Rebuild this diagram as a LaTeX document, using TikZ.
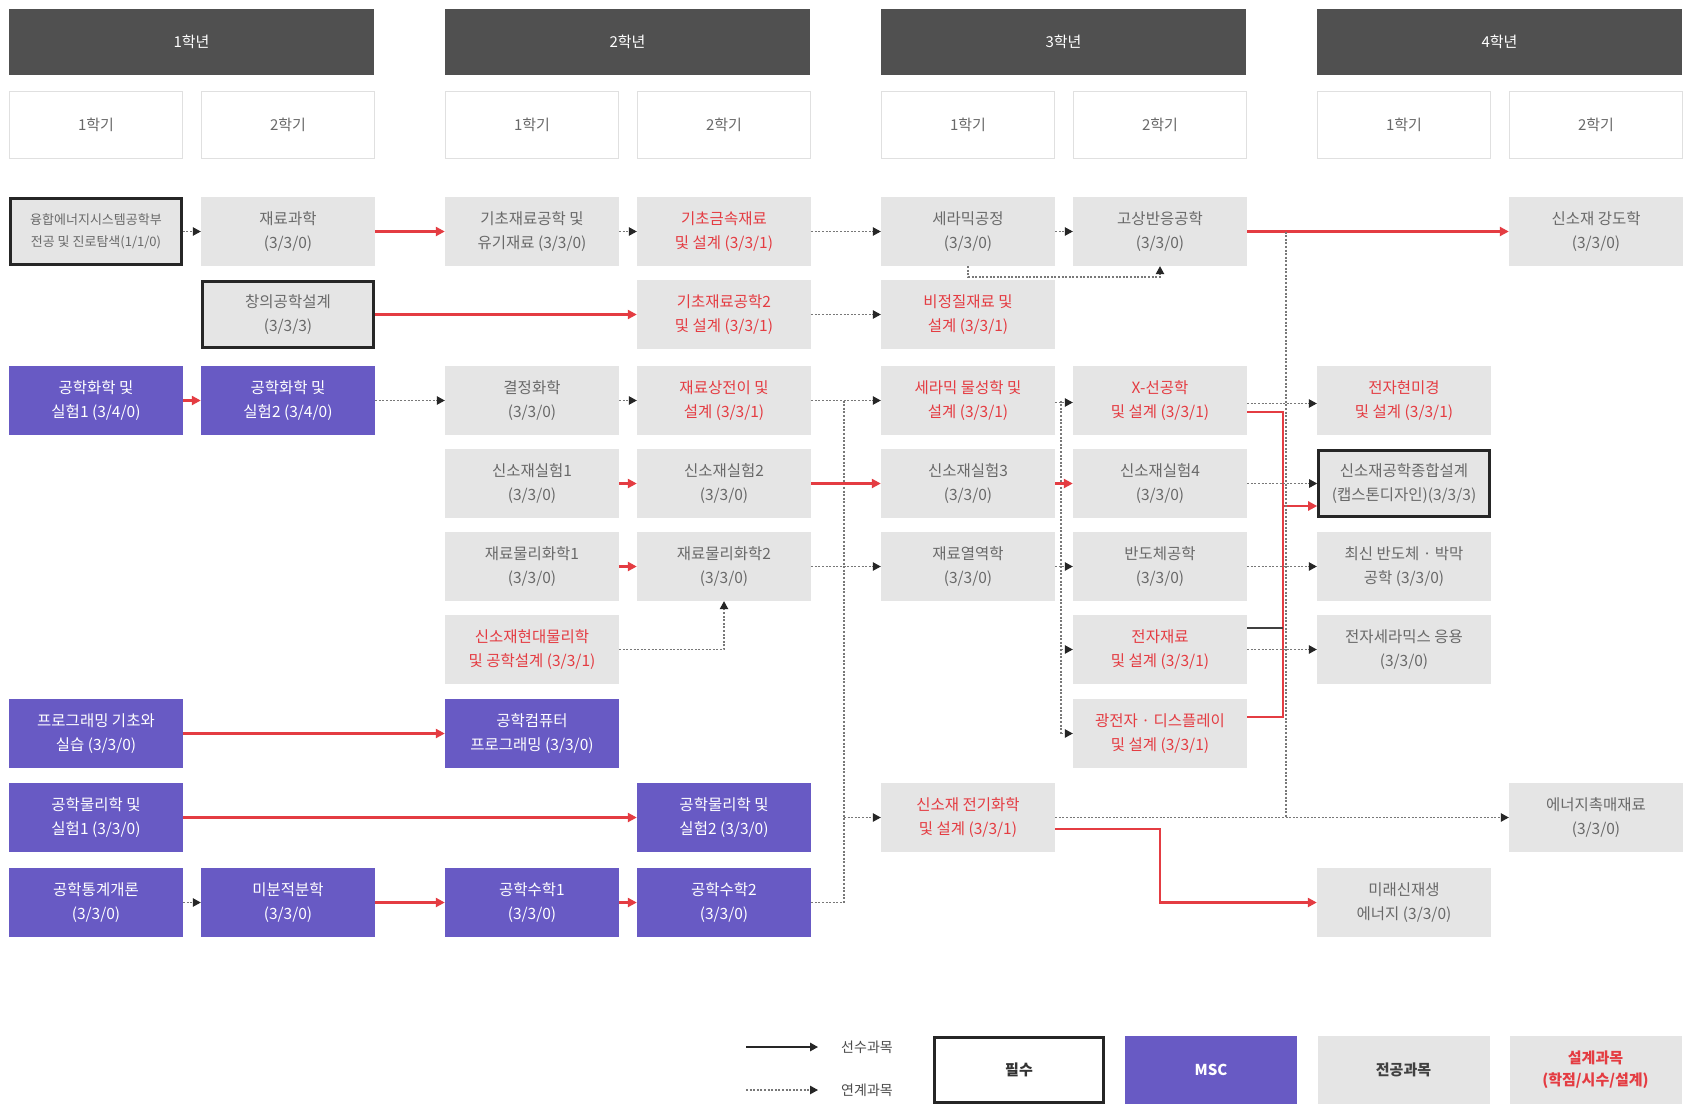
\documentclass[tikz,border=0pt]{standalone}
\usepackage{fontspec}
\setmainfont{Noto Sans CJK KR}
\usetikzlibrary{arrows.meta,calc}
\definecolor{hdrgray}{RGB}{80,80,80}
\definecolor{boxgray}{RGB}{229,229,229}
\definecolor{txtgray}{RGB}{105,105,105}
\definecolor{semline}{RGB}{224,224,224}
\definecolor{mscpurple}{RGB}{104,90,196}
\definecolor{dred}{RGB}{228,60,66}
\definecolor{dotgray}{RGB}{120,120,120}
\begin{document}
\begin{tikzpicture}[x=1pt,y=-1pt,
  hdr/.style={rectangle,fill=hdrgray,minimum width=365pt,minimum height=66pt,inner sep=0pt,text=white,font=\fontsize{15}{18}\selectfont},
  sem/.style={rectangle,fill=white,draw=semline,line width=1pt,minimum width=173pt,minimum height=67pt,inner sep=0pt,text=txtgray,font=\fontsize{15}{18}\selectfont},
  course/.style={rectangle,fill=boxgray,minimum width=174pt,minimum height=69pt,inner sep=0pt,align=center,text=txtgray,font=\fontsize{15.5}{24}\selectfont},
  design/.style={course,text=dred},
  msc/.style={course,fill=mscpurple,text=white},
  req/.style={draw=black!85,line width=2.6pt,minimum width=171pt,minimum height=66pt},
  redln/.style={draw=dred,line width=2.5pt},
  redarr/.style={redln,-{Triangle[length=9pt,width=9pt]}},
  dotln/.style={draw=dotgray,line width=1.1pt,dash pattern=on 2pt off 1.6pt},
  dotarr/.style={dotln,-{Triangle[length=8pt,width=8.5pt,color=black!85]}},
  darkln/.style={draw=black!75,line width=2pt},
  solidarr/.style={draw=black!85,line width=1.5pt,-{Triangle[length=8pt,width=8.5pt]}},
  legtxt/.style={text=black!70,font=\fontsize{14}{17}\selectfont},
  legbox/.style={rectangle,minimum width=172pt,minimum height=68pt,inner sep=0pt,align=center,font=\bfseries\fontsize{15}{22}\selectfont}
]
\useasboundingbox (0,0) rectangle (1687,1106);
\fill[white] (0,0) rectangle (1687,1106);

% headers
\node[hdr] (y1) at (191.5,42) {1학년};
\node[hdr] (y2) at (627.5,42) {2학년};
\node[hdr] (y3) at (1063.5,42) {3학년};
\node[hdr] (y4) at (1499.5,42) {4학년};
% semesters
\node[sem] (s1) at (96,125) {1학기};
\node[sem] (s2) at (288,125) {2학기};
\node[sem] (s3) at (532,125) {1학기};
\node[sem] (s4) at (724,125) {2학기};
\node[sem] (s5) at (968,125) {1학기};
\node[sem] (s6) at (1160,125) {2학기};
\node[sem] (s7) at (1404,125) {1학기};
\node[sem] (s8) at (1596,125) {2학기};

% row 1
\node[course,req,font=\fontsize{13}{22}\selectfont] (n11) at (96,231.5) {융합에너지시스템공학부\\전공 및 진로탐색(1/1/0)};
\node[course] (n21) at (288,231.5) {재료과학\\(3/3/0)};
\node[course] (n31) at (532,231.5) {기초재료공학 및\\유기재료 (3/3/0)};
\node[design] (n41) at (724,231.5) {기초금속재료\\및 설계 (3/3/1)};
\node[course] (n51) at (968,231.5) {세라믹공정\\(3/3/0)};
\node[course] (n61) at (1160,231.5) {고상반응공학\\(3/3/0)};
\node[course] (n81) at (1596,231.5) {신소재 강도학\\(3/3/0)};
% row 2
\node[course,req] (n22) at (288,314.5) {창의공학설계\\(3/3/3)};
\node[design] (n42) at (724,314.5) {기초재료공학2\\및 설계 (3/3/1)};
\node[design] (n52) at (968,314.5) {비정질재료 및\\설계 (3/3/1)};
% row 3
\node[msc] (n13) at (96,400.5) {공학화학 및\\실험1 (3/4/0)};
\node[msc] (n23) at (288,400.5) {공학화학 및\\실험2 (3/4/0)};
\node[course] (n33) at (532,400.5) {결정화학\\(3/3/0)};
\node[design] (n43) at (724,400.5) {재료상전이 및\\설계 (3/3/1)};
\node[design] (n53) at (968,400.5) {세라믹 물성학 및\\설계 (3/3/1)};
\node[design] (n63) at (1160,400.5) {X-선공학\\및 설계 (3/3/1)};
\node[design] (n73) at (1404,400.5) {전자현미경\\및 설계 (3/3/1)};
% row 4
\node[course] (n34) at (532,483.5) {신소재실험1\\(3/3/0)};
\node[course] (n44) at (724,483.5) {신소재실험2\\(3/3/0)};
\node[course] (n54) at (968,483.5) {신소재실험3\\(3/3/0)};
\node[course] (n64) at (1160,483.5) {신소재실험4\\(3/3/0)};
\node[course,req] (n74) at (1404,483.5) {신소재공학종합설계\\(캡스톤디자인)(3/3/3)};
% row 5
\node[course] (n35) at (532,566.5) {재료물리화학1\\(3/3/0)};
\node[course] (n45) at (724,566.5) {재료물리화학2\\(3/3/0)};
\node[course] (n55) at (968,566.5) {재료열역학\\(3/3/0)};
\node[course] (n65) at (1160,566.5) {반도체공학\\(3/3/0)};
\node[course] (n75) at (1404,566.5) {최신 반도체 · 박막\\공학 (3/3/0)};
% row 6
\node[design] (n36) at (532,649.5) {신소재현대물리학\\및 공학설계 (3/3/1)};
\node[design] (n66) at (1160,649.5) {전자재료\\및 설계 (3/3/1)};
\node[course] (n76) at (1404,649.5) {전자세라믹스 응용\\(3/3/0)};
% row 7
\node[msc] (n17) at (96,733.5) {프로그래밍 기초와\\실습 (3/3/0)};
\node[msc] (n37) at (532,733.5) {공학컴퓨터\\프로그래밍 (3/3/0)};
\node[design] (n67) at (1160,733.5) {광전자 · 디스플레이\\및 설계 (3/3/1)};
% row 8
\node[msc] (n18) at (96,817.5) {공학물리학 및\\실험1 (3/3/0)};
\node[msc] (n48) at (724,817.5) {공학물리학 및\\실험2 (3/3/0)};
\node[design] (n58) at (968,817.5) {신소재 전기화학\\및 설계 (3/3/1)};
\node[course] (n88) at (1596,817.5) {에너지촉매재료\\(3/3/0)};
% row 9
\node[msc] (n19) at (96,902.5) {공학통계개론\\(3/3/0)};
\node[msc] (n29) at (288,902.5) {미분적분학\\(3/3/0)};
\node[msc] (n39) at (532,902.5) {공학수학1\\(3/3/0)};
\node[msc] (n49) at (724,902.5) {공학수학2\\(3/3/0)};
\node[course] (n79) at (1404,902.5) {미래신재생\\에너지 (3/3/0)};

% bus coordinates
\coordinate (b1t) at (844,400.5);
\coordinate (b1m) at (844,817.5);
\coordinate (b1b) at (844,902.5);
\coordinate (b2t) at (1061,400.5);
\coordinate (b2m) at (1061,649.5);
\coordinate (b2b) at (1061,733.5);
\coordinate (rbt) at (1283,412);
\coordinate (rbm) at (1283,506);
\coordinate (rbk) at (1283,628);
\coordinate (rbb) at (1283,717);
\coordinate (dvt) at (1286,231.5);
\coordinate (dvb) at (1286,817.5);
\coordinate (rk) at (1160,829);
\coordinate (nb) at (968,277);

% connectors
\draw[dotarr] (n11.east) -- (n21.west);
\draw[redarr] (n21.east) -- (n31.west);
\draw[dotarr] (n31.east) -- (n41.west);
\draw[dotarr] (n41.east) -- (n51.west);
\draw[dotarr] (n51.east) -- (n61.west);
\draw[dotarr] (n51.south) -- (nb) -| (n61.south);
\draw[redarr] (n61.east) -- (n81.west);
\draw[redarr] (n22.east) -- (n42.west);
\draw[dotarr] (n42.east) -- (n52.west);
\draw[redarr] (n13.east) -- (n23.west);
\draw[dotarr] (n23.east) -- (n33.west);
\draw[dotarr] (n33.east) -- (n43.west);
\draw[dotarr] (n43.east) -- (n53.west);
\draw[dotln] (b1t) -- (b1b);
\draw[dotln] (n49.east) -- (b1b);
\draw[dotarr] (b1m) -- (n58.west);
\draw[redarr] (n34.east) -- (n44.west);
\draw[redarr] (n44.east) -- (n54.west);
\draw[redarr] (n35.east) -- (n45.west);
\draw[dotarr] (n45.east) -- (n55.west);
\draw[dotarr] (n36.east) -| (n45.south);
\draw[redarr] (n17.east) -- (n37.west);
\draw[redarr] (n18.east) -- (n48.west);
\draw[dotarr] (n19.east) -- (n29.west);
\draw[redarr] (n29.east) -- (n39.west);
\draw[redarr] (n39.east) -- (n49.west);

\draw[dotarr] ([yshift=-2pt]n53.east) -- ([yshift=-2pt]n63.west);
\draw[dotln] (b2t) -- (b2b);
\draw[redarr] (n54.east) -- (n64.west);
\draw[dotarr] (n55.east) -- (n65.west);
\draw[dotarr] (b2m) -- (n66.west);
\draw[dotarr] (b2b) -- (n67.west);

\draw[redln] (rbt -| n63.east) -- (rbt) -- (rbb) -- (rbb -| n67.east);
\draw[redarr] (rbm) -- (rbm -| n74.west);
\draw[darkln] (rbk -| n66.east) -- (rbk);
\draw[dotarr] ([yshift=-3pt]n63.east) -- ([yshift=-3pt]n73.west);
\draw[dotarr] (n64.east) -- (n74.west);
\draw[dotarr] (n65.east) -- (n75.west);
\draw[dotarr] (n66.east) -- (n76.west);
\draw[dotln] (dvt) -- (dvb);
\draw[dotarr] (n58.east) -- (n88.west);
\draw[redarr] (rk -| n58.east) -- (rk) |- (n79.west);

% legend
\coordinate (la1) at (746,1047);
\coordinate (la2) at (818,1047);
\coordinate (lb1) at (746,1090);
\coordinate (lb2) at (818,1090);
\draw[solidarr] (la1) -- (la2);
\draw[dotarr] (lb1) -- (lb2);
\node[legtxt] (lt1) at (867,1047) {선수과목};
\node[legtxt] (lt2) at (867,1090) {연계과목};
\node[legbox,fill=white,draw=black!85,line width=2.6pt,minimum width=169pt,minimum height=65pt,text=black!80] (lg1) at (1019,1070) {필수};
\node[legbox,fill=mscpurple,text=white] (lg2) at (1211,1070) {MSC};
\node[legbox,fill=boxgray,text=black!75] (lg3) at (1403.5,1070) {전공과목};
\node[legbox,fill=boxgray,text=dred] (lg4) at (1595.5,1070) {설계과목\\(학점/시수/설계)};
\end{tikzpicture}
\end{document}
